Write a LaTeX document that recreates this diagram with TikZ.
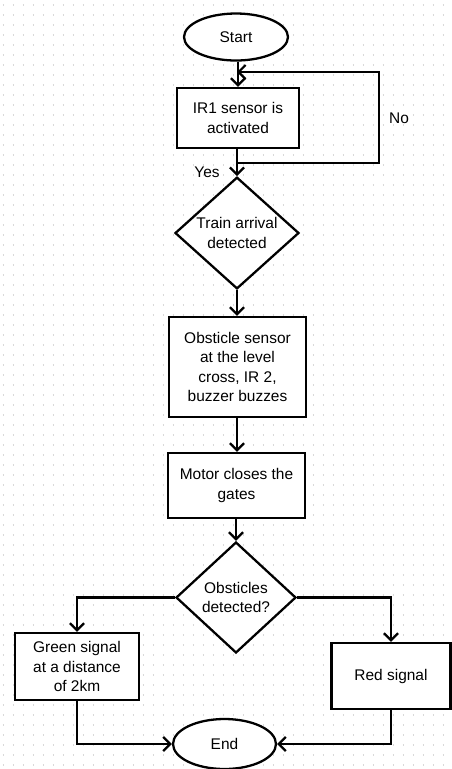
\documentclass[tikz,border=0pt]{standalone}
\usepackage{fontspec}
\setmainfont{Liberation Sans}
\usetikzlibrary{shapes.geometric,arrows.meta}

\begin{document}
\begin{tikzpicture}[x=0.02cm, y=-0.02cm,
  font=\fontsize{8.8}{11}\selectfont,
  term/.style={draw, ellipse, fill=white, line width=1.3pt, inner sep=0pt},
  proc/.style={draw, rectangle, fill=white, line width=1.3pt, align=center, inner sep=0pt},
  decide/.style={draw, diamond, fill=white, line width=1.3pt, align=center, inner sep=0pt},
  flow/.style={line width=1.3pt, -{Straight Barb[length=4pt,width=8pt]}}]
\useasboundingbox (0,0) rectangle (452,769);
% dotted background grid
\foreach \y in {5,15,...,765}
  \draw[gray!30, line width=0.7pt, dash pattern=on 0.7pt off 4.99pt] (3,\y) -- (452,\y);

\node[term, minimum width=2.08cm, minimum height=0.94cm] (start) at (236,37) {Start};
\node[proc, minimum width=2.44cm, minimum height=1.2cm] (ir1) at (238,118) {IR1 sensor is\\activated};
\node[decide, minimum width=2.48cm, minimum height=2.2cm] (train) at (237,233) {Train arrival\\detected};
\node[proc, minimum width=2.74cm, minimum height=2cm] (obst) at (237.5,367) {Obsticle sensor\\at the level\\cross, IR 2,\\buzzer buzzes};
\node[proc, minimum width=2.74cm, minimum height=1.3cm] (motor) at (236.5,485.5) {Motor closes the\\gates};
\node[decide, minimum width=2.4cm, minimum height=2.22cm] (detect) at (236,597.5) {Obsticles\\detected?};
\node[proc, minimum width=2.48cm, minimum height=1.34cm] (green) at (77,666.5) {Green signal\\at a distance\\of 2km};
\node[proc, minimum width=2.38cm, minimum height=1.32cm] (red) at (391,676) {Red signal};
\node[term, minimum width=2.06cm, minimum height=1cm] (end) at (224.5,744) {End};

\node (nolabel) at (399,118) {No};
\node (yeslabel) at (207,172) {Yes};

\coordinate (noout) at (237,163);
\coordinate (noturn) at (379,163);
\coordinate (nojoin) at (237,72);

\draw[flow] (start.south -| ir1) -- (ir1.north);
\draw[flow] (noout) -- (noturn) |- (nojoin);
\draw[flow] (ir1.south -| train) -- (train.north);
\draw[flow] (train.south) -- (obst.north -| train);
\draw[flow] (obst.south -| train) -- (motor.north -| train);
\draw[flow] (motor.south -| detect) -- (detect.north);
\draw[flow] (detect.west) -| (green.north);
\draw[flow] (detect.east) -| (red.north);
\draw[flow] (green.south) |- (end.west);
\draw[flow] (red.south) |- (end.east);
\end{tikzpicture}
\end{document}
